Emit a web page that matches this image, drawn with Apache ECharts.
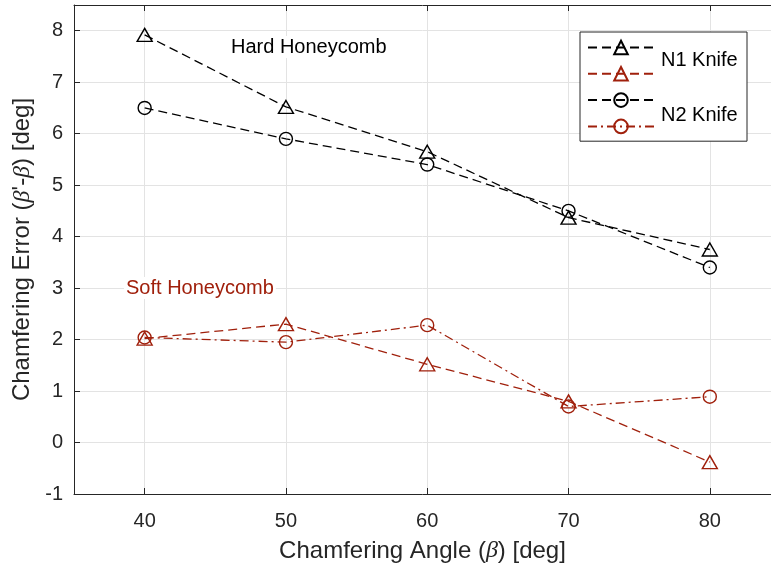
<!DOCTYPE html>
<html><head><meta charset="utf-8">
<script src="https://cdn.jsdelivr.net/npm/echarts@6/dist/echarts.min.js"></script>
<style>html,body{margin:0;padding:0;background:#fff}#c{width:771px;height:572px}</style>
</head><body><div id="c"></div>
<script>
// ---- data ----
const angles = [40, 50, 60, 70, 80];
const n1Hard = [7.92, 6.52, 5.65, 4.37, 3.75];
const n2Hard = [6.50, 5.90, 5.40, 4.50, 3.40];
const n1Soft = [2.02, 2.30, 1.52, 0.80, -0.38];
const n2Soft = [2.04, 1.95, 2.28, 0.70, 0.89];
const xTicks = [40, 50, 60, 70, 80];
const yTicks = [-1, 0, 1, 2, 3, 4, 5, 6, 7, 8];
const seriesNames = ['N1 Knife', 'N1 Knife (soft)', 'N2 Knife', 'N2 Knife (soft)'];
const legendLabels = ['N1 Knife', 'N2 Knife'];
const annotations = ['Hard Honeycomb', 'Soft Honeycomb'];

const BLACK = '#000000', RED = '#a0200c', AX = '#262626';
const FONT = '"Liberation Sans", Arial, Helvetica, sans-serif';
const DASH = [9, 5], DASHDOT = [9, 4, 2, 4];

function pairs(v) { return angles.map((a, i) => [a, v[i]]); }
function mk(name, vals, color, symbol, dash) {
  return {
    name, type: 'line', data: pairs(vals), symbol,
    symbolSize: symbol === 'triangle' ? [15, 13] : 13,
    showSymbol: true, animation: false,
    lineStyle: { color, width: 1.3, type: dash },
    itemStyle: { color: 'rgba(255,255,255,0)', borderColor: color, borderWidth: 1.4 },
    emphasis: { disabled: true }
  };
}

const chart = echarts.init(document.getElementById('c'), null, { renderer: 'canvas' });
chart.setOption({
  animation: false,
  backgroundColor: '#ffffff',
  grid: { left: 74, top: 5, right: 0, bottom: 78, containLabel: false },
  xAxis: [{
    type: 'value', min: 35, max: 84.33, position: 'bottom',
    axisLine: { show: true, onZero: false, lineStyle: { color: AX, width: 1 } },
    axisTick: { show: true, inside: true, length: 6, customValues: xTicks, lineStyle: { color: AX } },
    axisLabel: { customValues: xTicks, fontSize: 20, color: AX, fontFamily: FONT, margin: 17 },
    splitLine: { show: true, lineStyle: { color: '#e3e3e3', width: 1 } },
    name: 'Chamfering Angle ({i|β}) [deg]', nameLocation: 'middle', nameGap: 45,
    nameTextStyle: { fontSize: 24, color: AX, fontFamily: FONT,
      rich: { i: { fontSize: 24, fontStyle: 'italic', fontFamily: '"Liberation Serif", serif', color: AX } } }
  }, {
    type: 'value', min: 35, max: 84.33, position: 'top',
    axisLine: { show: true, onZero: false, lineStyle: { color: AX, width: 1 } },
    axisTick: { show: true, inside: true, length: 6, customValues: xTicks, lineStyle: { color: AX } },
    axisLabel: { show: false }, splitLine: { show: false }
  }],
  yAxis: [{
    type: 'value', min: -1, max: 8.5,
    axisLine: { show: true, onZero: false, lineStyle: { color: AX, width: 1 } },
    axisTick: { show: true, inside: true, length: 6, customValues: yTicks, lineStyle: { color: AX } },
    axisLabel: { customValues: yTicks, fontSize: 20, color: AX, fontFamily: FONT, margin: 11 },
    splitLine: { show: true, lineStyle: { color: '#e3e3e3', width: 1 } },
    name: 'Chamfering Error ({i|β}\'-{i|β}) [deg]', nameLocation: 'middle', nameGap: 37,
    nameTextStyle: { fontSize: 24, color: AX, fontFamily: FONT,
      rich: { i: { fontSize: 24, fontStyle: 'italic', fontFamily: '"Liberation Serif", serif', color: AX } } }
  }],
  legend: {
    orient: 'vertical', left: 580, top: 32,
    itemWidth: 66, itemHeight: 17, itemGap: 10,
    padding: [7, 92, 7, 7],
    backgroundColor: '#ffffff', borderColor: AX, borderWidth: 1,
    formatter: () => '', selectedMode: false,
    data: seriesNames
  },
  series: [
    mk(seriesNames[0], n1Hard, BLACK, 'triangle', DASH),
    mk(seriesNames[1], n1Soft, RED, 'triangle', DASH),
    mk(seriesNames[2], n2Hard, BLACK, 'circle', DASH),
    mk(seriesNames[3], n2Soft, RED, 'circle', DASHDOT)
  ],
  graphic: [
    { type: 'text', left: 661, top: 50, z: 100, style: { text: legendLabels[0], fontSize: 20, fill: BLACK, fontFamily: FONT } },
    { type: 'text', left: 661, top: 105, z: 100, style: { text: legendLabels[1], fontSize: 20, fill: BLACK, fontFamily: FONT } },
    { type: 'text', left: 229, top: 36, z: 50, style: { text: annotations[0], fontSize: 20, fill: BLACK, fontFamily: FONT, backgroundColor: '#ffffff', padding: [1, 2, 1, 2] } },
    { type: 'text', left: 124, top: 277, z: 50, style: { text: annotations[1], fontSize: 20, fill: RED, fontFamily: FONT, backgroundColor: '#ffffff', padding: [1, 2, 1, 2] } }
  ]
});
</script></body></html>
